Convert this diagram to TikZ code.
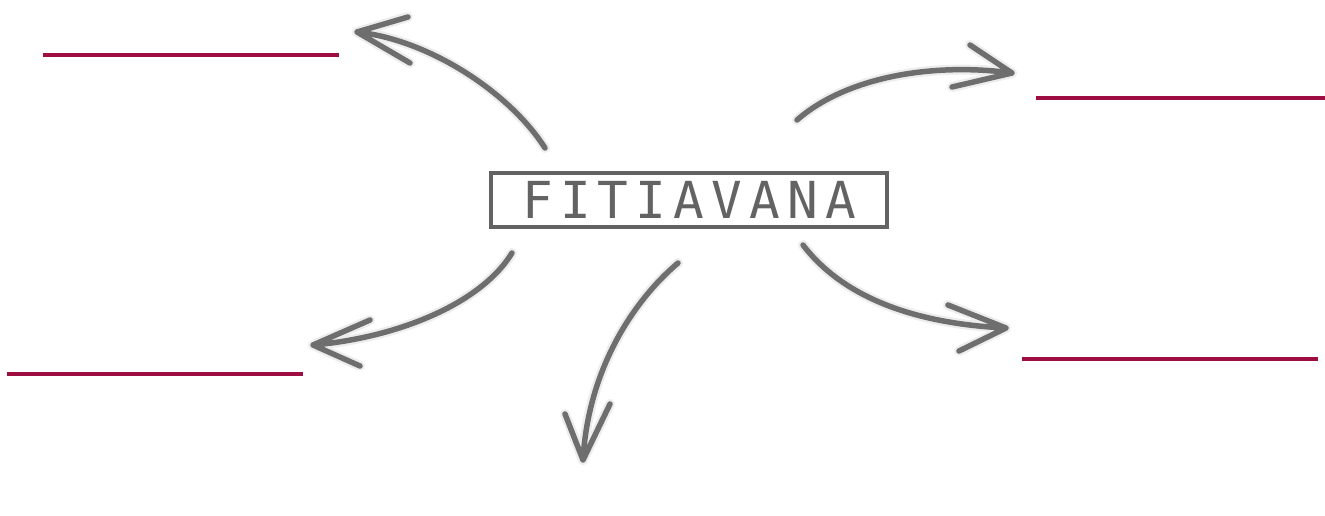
\documentclass[tikz,border=0pt]{standalone}
\usepackage{fontspec}
\newfontfamily\fitifont{DejaVu Sans Mono}[LetterSpace=14]
\definecolor{arrgray}{HTML}{6E6E6E}
\definecolor{boxgray}{HTML}{636363}
\definecolor{linered}{HTML}{9E0E40}
\tikzset{
  sketch/.style={draw=arrgray, line width=5.5pt, line cap=round, line join=round},
  sketchsoft/.style={draw=arrgray, line width=10pt, line cap=round, line join=round, opacity=0.12},
  redline/.style={draw=linered, line width=3.5pt},
  titlebox/.style={draw=boxgray, line width=4pt, minimum width=396pt, minimum height=54pt, inner sep=0pt, text=boxgray, font=\fitifont\fontsize{51}{60}\selectfont}
}
\begin{document}
\begin{tikzpicture}[x=1pt,y=-1pt]
\useasboundingbox (0,0) rectangle (1325,515);
\node[titlebox] (box) at (689,200) {FITIAVANA};
% red lines
\coordinate (r1a) at (43,55);   \coordinate (r1b) at (339,55);
\coordinate (r2a) at (1036,98); \coordinate (r2b) at (1325,98);
\coordinate (r3a) at (7,374);   \coordinate (r3b) at (303,374);
\coordinate (r4a) at (1022,359);\coordinate (r4b) at (1318,359);
\draw[redline] (r1a) -- (r1b);
\draw[redline] (r2a) -- (r2b);
\draw[redline] (r3a) -- (r3b);
\draw[redline] (r4a) -- (r4b);
% arrow coordinates
\coordinate (s1) at (545,148); \coordinate (t1) at (357,32); \coordinate (h1a) at (408,17); \coordinate (h1b) at (410,63);
\coordinate (s2) at (797,120); \coordinate (t2) at (1012,73); \coordinate (h2a) at (970,45); \coordinate (h2b) at (952,87);
\coordinate (s3) at (512,253); \coordinate (t3) at (313,345); \coordinate (h3a) at (370,320); \coordinate (h3b) at (360,366);
\coordinate (s4) at (678,263); \coordinate (t4) at (583,460); \coordinate (h4a) at (565,414); \coordinate (h4b) at (610,404);
\coordinate (s5) at (803,245); \coordinate (t5) at (1006,328); \coordinate (h5a) at (948,305); \coordinate (h5b) at (959,351);
\foreach \st in {sketchsoft,sketch}{
  \draw[\st] (s1) .. controls (510,93) and (430,40) .. (t1) (h1a) -- (t1) -- (h1b);
  \draw[\st] (s2) .. controls (845,78) and (930,62) .. (t2) (h2a) -- (t2) -- (h2b);
  \draw[\st] (s3) .. controls (480,305) and (395,338) .. (t3) (h3a) -- (t3) -- (h3b);
  \draw[\st] (s4) .. controls (633,301) and (588,370) .. (t4) (h4a) -- (t4) -- (h4b);
  \draw[\st] (s5) .. controls (845,300) and (920,324) .. (t5) (h5a) -- (t5) -- (h5b);
}
\end{tikzpicture}
\end{document}
